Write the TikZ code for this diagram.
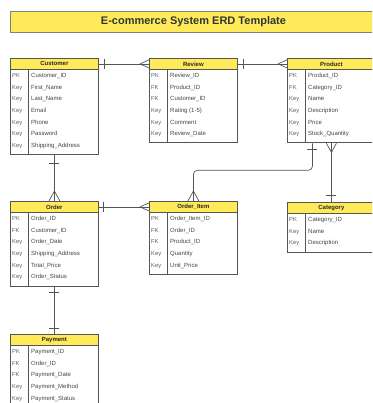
\documentclass[tikz,border=0pt]{standalone}
\usepackage{fontspec}
\setmainfont{Liberation Sans}
\usetikzlibrary{calc}
\definecolor{hdr}{HTML}{FFEB5A}
\definecolor{ln}{HTML}{555555}
\definecolor{txt}{HTML}{444444}
\definecolor{keytxt}{HTML}{5E5E5E}
\tikzset{
 hdrbox/.style={draw=ln, fill=hdr, line width=0.8pt, minimum width=88pt, minimum height=11pt, inner sep=0pt, anchor=north west, font=\fontsize{6}{7}\selectfont\bfseries, text=black!85},
 bodybox/.style={draw=ln, line width=0.8pt, minimum width=88pt, inner sep=0pt, anchor=north west},
 keylbl/.style={anchor=base west, inner sep=0pt, font=\fontsize{5.8}{6.5}\selectfont, text=keytxt},
 fieldlbl/.style={anchor=base west, inner sep=0pt, font=\fontsize{6}{7}\selectfont, text=txt},
 rel/.style={draw=ln, line width=0.7pt},
 titlebox/.style={draw=black!50, fill=hdr, line width=0.9pt, minimum width=366pt, minimum height=21pt, inner sep=0pt, anchor=north west, font=\fontsize{11}{13}\selectfont\bfseries, text=black!80},
}
\newcommand\erdentity[6]{%
  \node[hdrbox] (#1-h) at (#3,#4) {#2};
  \pgfmathsetmacro\erdbodyh{6.5+11.6*(#5-1)+9}
  \node[bodybox, minimum height=\erdbodyh pt] (#1) at (#3,#4+11) {};
  \draw[draw=ln, line width=0.8pt] ($(#1.north west)+(18,0)$) -- ($(#1.south west)+(18,0)$);
  \foreach \k/\f [count=\i] in {#6} {
    \node[keylbl] (#1-k\i) at ($(#1.north west)+(2,8.7+11.6*\i-11.6)$) {\k};
    \node[fieldlbl] (#1-f\i) at ($(#1.north west)+(21,8.7+11.6*\i-11.6)$) {\f};
  }
}
\begin{document}
\begin{tikzpicture}[x=1pt,y=-1pt]
\useasboundingbox (0,0) rectangle (372,403);
\clip (0,0) rectangle (372,403);
\node[titlebox] (title) at (10,11) {E-commerce System ERD Template};

\erdentity{cust}{Customer}{10}{58}{7}{PK/Customer\_ID,Key/First\_Name,Key/Last\_Name,Key/Email,Key/Phone,Key/Password,Key/Shipping\_Address}
\erdentity{rev}{Review}{149}{58}{6}{PK/Review\_ID,FK/Product\_ID,FK/Customer\_ID,Key/{Rating (1-5)},Key/Comment,Key/Review\_Date}
\erdentity{prod}{Product}{287}{58}{6}{PK/Product\_ID,FK/Category\_ID,Key/Name,Key/Description,Key/Price,Key/Stock\_Quantity}
\erdentity{ord}{Order}{10}{201}{6}{PK/Order\_ID,FK/Customer\_ID,Key/Order\_Date,Key/Shipping\_Address,Key/Total\_Price,Key/Order\_Status}
\erdentity{oi}{Order\_Item}{149}{201}{5}{PK/Order\_Item\_ID,FK/Order\_ID,FK/Product\_ID,Key/Quantity,Key/Unit\_Price}
\erdentity{cat}{Category}{287}{202}{3}{PK/Category\_ID,Key/Name,Key/Description}
\erdentity{pay}{Payment}{10}{334}{5}{PK/Payment\_ID,FK/Order\_ID,FK/Payment\_Date,Key/Payment\_Method,Key/Payment\_Status}

% Customer - Review
\draw[rel] (cust-h.east) -- (rev-h.west);
\draw[rel] ($(cust-h.east)+(6,-5)$) -- ($(cust-h.east)+(6,5)$);
\draw[rel] ($(rev-h.west)+(-9,0)$) -- ($(rev-h.west)+(0,-4)$) ($(rev-h.west)+(-9,0)$) -- ($(rev-h.west)+(0,4)$);
% Review - Product
\draw[rel] (rev-h.east) -- (prod-h.west);
\draw[rel] ($(rev-h.east)+(6,-5)$) -- ($(rev-h.east)+(6,5)$);
\draw[rel] ($(prod-h.west)+(-9,0)$) -- ($(prod-h.west)+(0,-4)$) ($(prod-h.west)+(-9,0)$) -- ($(prod-h.west)+(0,4)$);
% Customer - Order
\draw[rel] (cust.south) -- (ord-h.north);
\draw[rel] ($(cust.south)+(-5,8)$) -- ($(cust.south)+(5,8)$);
\draw[rel] ($(ord-h.north)+(0,-10)$) -- ($(ord-h.north)+(-5.5,0)$) ($(ord-h.north)+(0,-10)$) -- ($(ord-h.north)+(5.5,0)$);
% Order - Order_Item
\draw[rel] (ord-h.east) -- (oi-h.west);
\draw[rel] ($(ord-h.east)+(5,-5)$) -- ($(ord-h.east)+(5,5)$);
\draw[rel] ($(oi-h.west)+(-9,0)$) -- ($(oi-h.west)+(0,-4)$) ($(oi-h.west)+(-9,0)$) -- ($(oi-h.west)+(0,4)$);
% Order - Payment
\draw[rel] (ord.south) -- (pay-h.north);
\draw[rel] ($(ord.south)+(-5,6)$) -- ($(ord.south)+(5,6)$);
\draw[rel] ($(pay-h.north)+(-5,-6)$) -- ($(pay-h.north)+(5,-6)$);
% Product - Order_Item
\draw[rel, rounded corners=4pt] ($(prod.south)+(-19,0)$) -- ++(0,27) -| (oi-h.north);
\draw[rel] ($(prod.south)+(-24,6)$) -- ($(prod.south)+(-14,6)$);
\draw[rel] ($(oi-h.north)+(0,-10)$) -- ($(oi-h.north)+(-5.5,0)$) ($(oi-h.north)+(0,-10)$) -- ($(oi-h.north)+(5.5,0)$);
% Product - Category
\draw[rel] (prod.south) -- (cat-h.north);
\draw[rel] ($(prod.south)+(0,9)$) -- ($(prod.south)+(-5,0)$) ($(prod.south)+(0,9)$) -- ($(prod.south)+(5,0)$);
\draw[rel] ($(cat-h.north)+(-5,-7)$) -- ($(cat-h.north)+(5,-7)$);
\end{tikzpicture}
\end{document}
